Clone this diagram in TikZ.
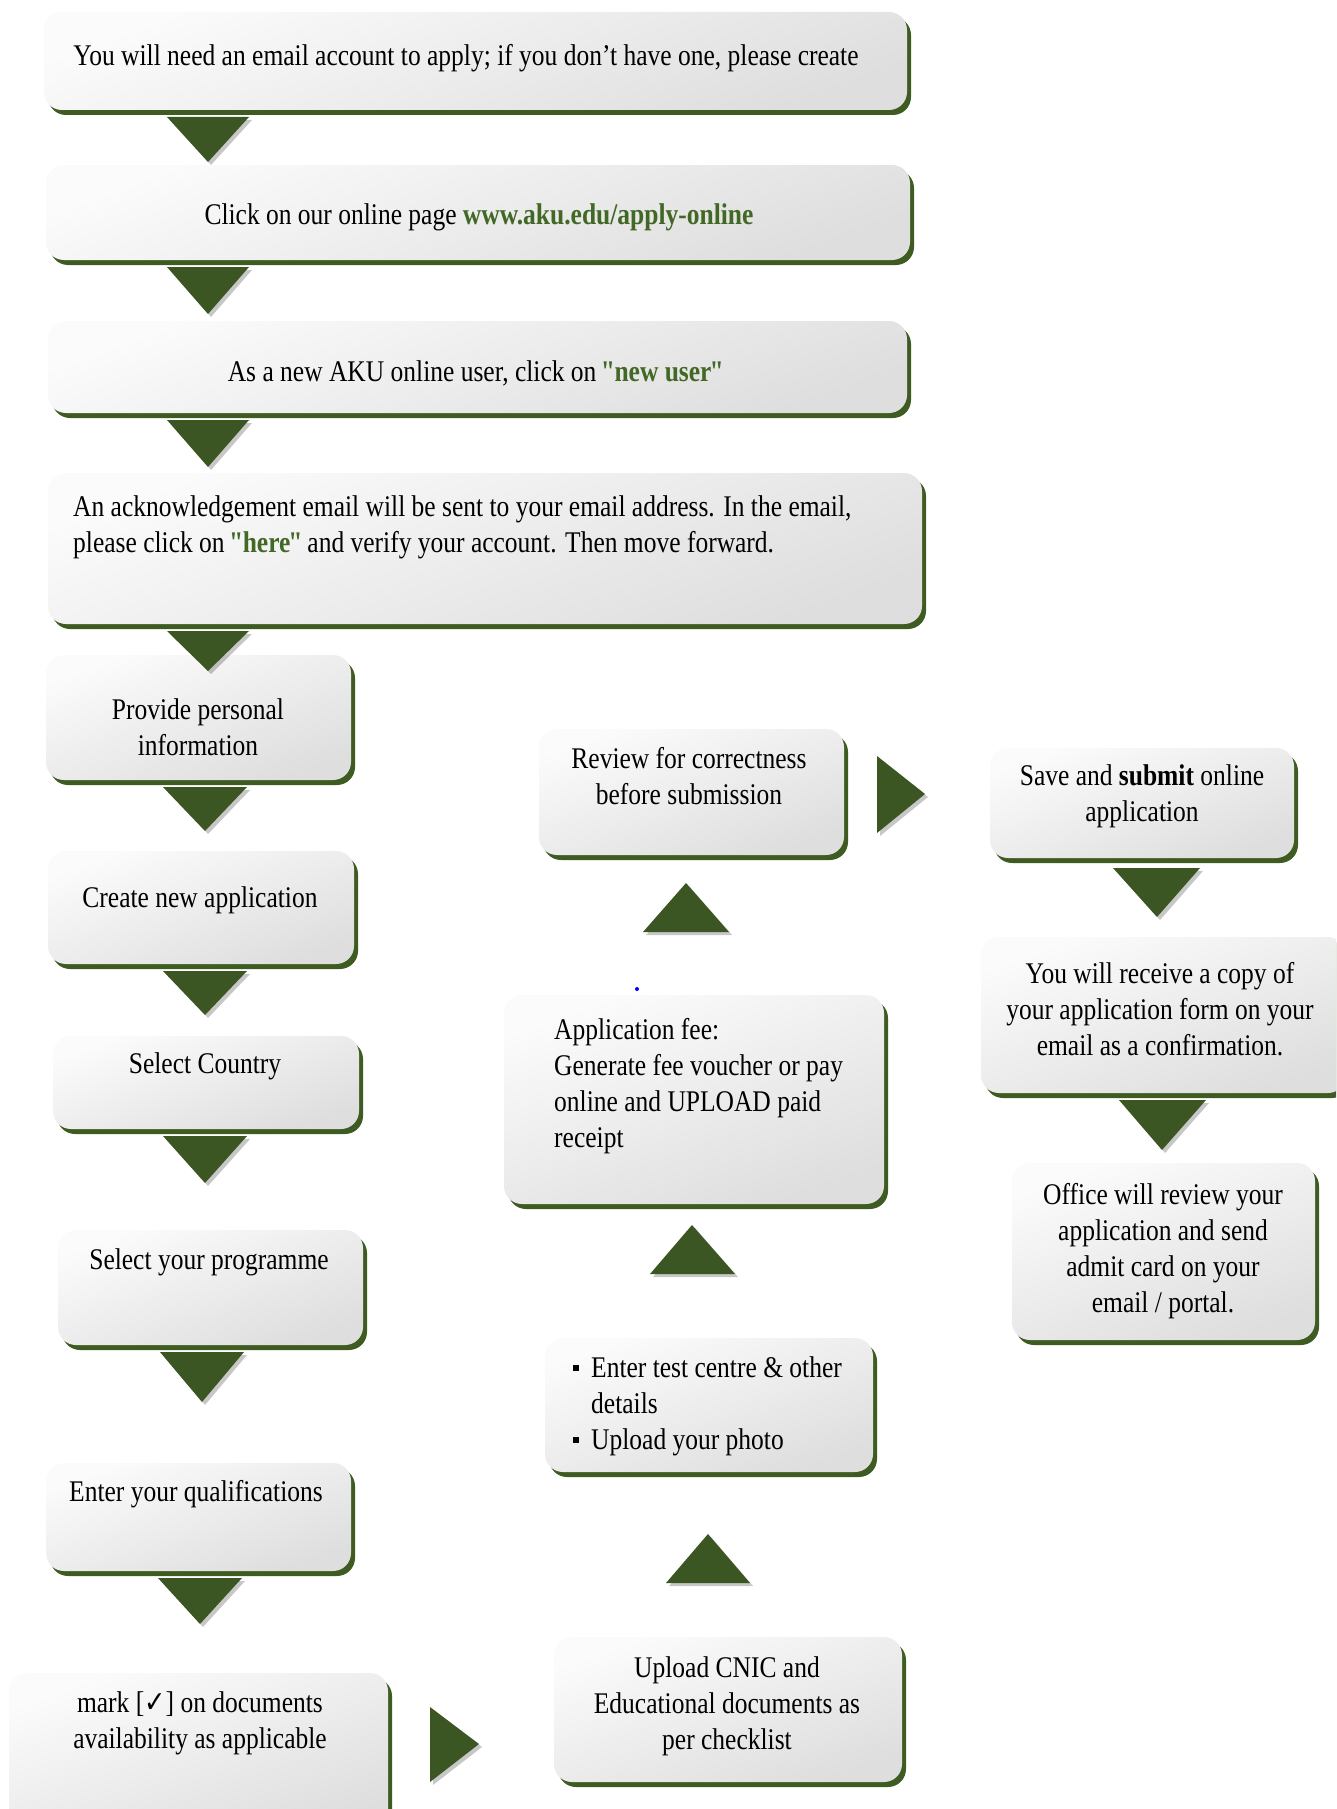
\documentclass[tikz,border=0pt]{standalone}
\usepackage{fontspec}
\setmainfont{Liberation Serif}[FakeStretch=0.85]
\newfontfamily\symfont{DejaVu Sans}[FakeStretch=0.85]
\usetikzlibrary{shadows}
\definecolor{trigreen}{RGB}{59,85,35}
\definecolor{shgreen}{RGB}{62,92,34}
\definecolor{tgreen}{RGB}{66,104,38}
\tikzset{
  box/.style={rounded corners=18pt, top color=gray!3, bottom color=gray!26, shading angle=20,
    draw=none, inner sep=0pt,
    general shadow={fill=shgreen, shadow xshift=4pt, shadow yshift=-5pt}},
  txt/.style={font=\fontsize{30}{36}\selectfont, inner sep=0pt, align=center},
  tri/.style={fill=trigreen, draw=none,
    general shadow={fill=black, opacity=0.22, shadow xshift=3pt, shadow yshift=-3pt}}
}
\newcommand\flowbox[5]{\node[box, minimum width={#4-#2-4}, minimum height={#5-#3-5}] (#1) at ({(#2+#4-4)/2},{(#3+#5-5)/2}) {};}
\newcommand\gtext[1]{\textbf{\color{tgreen}#1}}
\newcommand\dqo{\kern-2pt\XeTeXglyph\XeTeXcharglyph"22\relax\kern-3pt}
\newcommand\dqc{\kern-2pt\XeTeXglyph\XeTeXcharglyph"22\relax\kern-4pt}
\newcommand\sqbullet{\rule[6pt]{6pt}{6pt}}
\begin{document}
\begin{tikzpicture}[x=1pt,y=-1pt]
\useasboundingbox (0,0) rectangle (1336,1809);
\clip (0,0) rectangle (1336,1809);
% boxes
\flowbox{b1}{44}{12}{911}{115}
\flowbox{b2}{46}{165}{914}{265}
\flowbox{b3}{48}{321}{911}{418}
\flowbox{b4}{48}{473}{926}{629}
\flowbox{b5}{46}{655}{355}{785}
\flowbox{b6}{48}{851}{358}{969}
\flowbox{b7}{53}{1036}{363}{1134}
\flowbox{b8}{58}{1230}{367}{1350}
\flowbox{b9}{46}{1463}{355}{1576}
\flowbox{b10}{9}{1673}{392}{1840}
\flowbox{b11}{554}{1637}{906}{1787}
\flowbox{b12}{545}{1338}{877}{1477}
\flowbox{b13}{504}{995}{888}{1209}
\flowbox{b14}{539}{729}{848}{860}
\flowbox{b15}{990}{748}{1298}{863}
\flowbox{b16}{981}{937}{1350}{1098}
\flowbox{b17}{1012}{1163}{1319}{1345}
% texts
\node[txt] (t1) at (466,58) {You will need an email account to apply; if you don't have one, please create};
\node[txt] (t2) at (479,217) {Click on our online page \gtext{www.aku.edu/apply-online}};
\node[txt] (t3) at (475,373) {As a new AKU online user, click on \gtext{\dqo{}new user\dqc}};
\node[txt, align=left, anchor=west] (t4) at (73,527) {An acknowledgement email will be sent to your email address. In the email,\\please click on \gtext{\dqo{}here\dqc}~and verify your account. Then move forward.};
\node[txt] (t5) at (198,727) {Provide personal\\information};
\node[txt] (t6) at (200,900) {Create new application};
\node[txt] (t7) at (205,1066) {Select Country};
\node[txt] (t8) at (209,1262) {Select your programme};
\node[txt] (t9) at (196,1494) {Enter your qualifications};
\node[txt] (t10) at (200,1723) {mark [{\symfont ✓}] on documents\\availability as applicable};
\node[txt] (t11) at (727,1706) {Upload CNIC and\\Educational documents as\\per checklist};
\node[txt, align=left, anchor=west] (t12) at (573,1406) {\sqbullet\hspace{12pt}Enter test centre \& other\\\hspace{18pt}details\\\sqbullet\hspace{12pt}Upload your photo};
\node[txt, align=left, anchor=west] (t13) at (554,1086) {Application fee:\\Generate fee voucher or pay\\online and UPLOAD paid\\receipt};
\node[txt] (t14) at (689,776) {Review for correctness\\before submission};
\node[txt] (t15) at (1142,796) {Save and \textbf{submit} online\\application};
\node[txt] (t16) at (1160,1009) {You will receive a copy of\\your application form on your\\email as a confirmation.};
\node[txt] (t17) at (1163,1251) {Office will review your\\application and send\\admit card on your\\email / portal.};
% triangle connectors
\fill[tri] (167,117) -- (249,117) -- (208,162) -- cycle;
\fill[tri] (167,267) -- (249,267) -- (208,314) -- cycle;
\fill[tri] (167,420) -- (249,420) -- (208,467) -- cycle;
\fill[tri] (167,631) -- (249,631) -- (208,671) -- cycle;
\fill[tri] (163,787) -- (247,787) -- (205,831) -- cycle;
\fill[tri] (163,971) -- (247,971) -- (205,1015) -- cycle;
\fill[tri] (163,1136) -- (247,1136) -- (205,1183) -- cycle;
\fill[tri] (160,1352) -- (244,1352) -- (202,1402) -- cycle;
\fill[tri] (158,1578) -- (242,1578) -- (200,1624) -- cycle;
\fill[tri] (430,1707) -- (430,1782) -- (479,1744) -- cycle;
\fill[tri] (666,1583) -- (750,1583) -- (708,1534) -- cycle;
\fill[tri] (650,1274) -- (735,1274) -- (692,1225) -- cycle;
\fill[tri] (643,932) -- (729,932) -- (686,883) -- cycle;
\fill[tri] (877,756) -- (877,833) -- (925,794) -- cycle;
\fill[tri] (1113,868) -- (1200,868) -- (1157,917) -- cycle;
\fill[tri] (1119,1100) -- (1206,1100) -- (1162,1150) -- cycle;
% stray dot
\fill[blue] (637,989) circle (2);
\end{tikzpicture}
\end{document}
